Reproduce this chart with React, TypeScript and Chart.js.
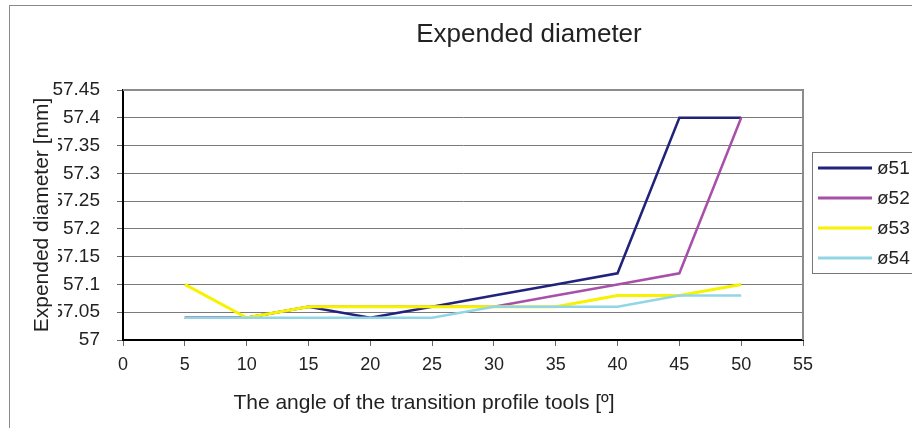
import React, { useEffect, useRef } from "react";
import { Chart, registerables } from "chart.js";

Chart.register(...registerables);

const angles = [5, 10, 15, 20, 25, 30, 35, 40, 45, 50];
const d51 = [57.04, 57.04, 57.06, 57.04, 57.06, 57.08, 57.1, 57.12, 57.4, 57.4];
const d52 = [57.04, 57.04, 57.06, 57.06, 57.06, 57.06, 57.08, 57.1, 57.12, 57.4];
const d53 = [57.1, 57.04, 57.06, 57.06, 57.06, 57.06, 57.06, 57.08, 57.08, 57.1];
const d54 = [57.04, 57.04, 57.04, 57.04, 57.04, 57.06, 57.06, 57.06, 57.08, 57.08];
const seriesNames = ["ø51", "ø52", "ø53", "ø54"];
const seriesColors = ["#22227c", "#a850a8", "#f6f200", "#92d6e6"];
const chartTitle = "Expended diameter";
const xTitle = "The angle of the transition profile tools [º]";
const yTitle = "Expended diameter [mm]";

const FONT = "'Liberation Sans', Arial, sans-serif";

const decorPlugin = {
  id: "decor",
  afterDraw(chart: any) {
    const { ctx, chartArea } = chart;
    ctx.save();
    // outer chart border
    ctx.strokeStyle = "#8a8a8a";
    ctx.lineWidth = 1;
    ctx.strokeRect(9.5, 5.5, 1200, 1200);
    // plot frame top/right
    ctx.strokeStyle = "#8c8c8c";
    ctx.lineWidth = 2;
    ctx.beginPath();
    ctx.moveTo(chartArea.left, chartArea.top);
    ctx.lineTo(chartArea.right, chartArea.top);
    ctx.lineTo(chartArea.right, chartArea.bottom);
    ctx.stroke();
    // title
    ctx.fillStyle = "#222";
    ctx.font = `26px ${FONT}`;
    ctx.textAlign = "center";
    ctx.textBaseline = "middle";
    ctx.fillText(chartTitle, 529, 35);
    // x title
    ctx.font = `21px ${FONT}`;
    ctx.fillText(xTitle, 424, 403);
    // y title with white background
    ctx.save();
    ctx.translate(41, (chartArea.top + chartArea.bottom) / 2);
    ctx.rotate(-Math.PI / 2);
    ctx.font = `21px ${FONT}`;
    const w = ctx.measureText(yTitle).width;
    ctx.fillStyle = "#fff";
    ctx.fillRect(-w / 2 - 2, -12, w + 4, 29);
    ctx.fillStyle = "#222";
    ctx.fillText(yTitle, 0, 1);
    ctx.restore();
    // legend
    const lx = 812, ly = 152;
    ctx.strokeStyle = "#777";
    ctx.lineWidth = 1;
    ctx.strokeRect(lx + 0.5, ly + 0.5, 200, 121);
    ctx.font = `19px ${FONT}`;
    ctx.textAlign = "left";
    chart.data.datasets.forEach((ds: any, i: number) => {
      const y = ly + 16 + i * 30;
      ctx.strokeStyle = ds.borderColor;
      ctx.lineWidth = 3;
      ctx.beginPath();
      ctx.moveTo(lx + 6, y);
      ctx.lineTo(lx + 60, y);
      ctx.stroke();
      ctx.fillStyle = "#222";
      ctx.fillText(ds.label, lx + 65, y + 1);
    });
    ctx.restore();
  },
};

export default function App() {
  const ref = useRef<HTMLCanvasElement>(null);
  useEffect(() => {
    document.body.style.margin = "0";
    const series = [d51, d52, d53, d54];
    const chart = new Chart(ref.current!, {
      type: "line",
      data: {
        datasets: series.map((s, i) => ({
          label: seriesNames[i],
          data: s.map((v, j) => ({ x: angles[j], y: v })),
          borderColor: seriesColors[i],
          backgroundColor: seriesColors[i],
          borderWidth: i === 2 ? 3 : 2.5,
          pointRadius: 0,
          tension: 0,
          fill: false,
          order: series.length - 1 - i,
        })),
      },
      options: {
        animation: false,
        responsive: false,
        layout: { padding: { top: 90, right: 109, left: 0, bottom: 0 } },
        plugins: {
          legend: { display: false },
          title: { display: false },
          tooltip: { enabled: false },
        },
        scales: {
          x: {
            type: "linear",
            min: 0,
            max: 55,
            afterFit: (s: any) => { s.height = 88; },
            ticks: {
              stepSize: 5,
              color: "#222",
              font: { size: 18, family: FONT },
              padding: 8,
              maxRotation: 0,
            },
            grid: { drawOnChartArea: false, color: "#000", tickColor: "#666", tickLength: 6 },
            border: { color: "#000", width: 2 },
          },
          y: {
            min: 57,
            max: 57.45,
            afterFit: (s: any) => { s.width = 123; },
            ticks: {
              stepSize: 0.05,
              color: "#222",
              font: { size: 19, family: FONT },
              padding: 17,
              callback: (v: any) => String(+Number(v).toFixed(2)),
            },
            grid: { color: "#7a7a7a", tickColor: "#666", tickLength: 6, lineWidth: 1 },
            border: { color: "#000", width: 2 },
          },
        },
      },
      plugins: [decorPlugin],
    });
    return () => chart.destroy();
  }, []);
  return (
    <div style={{ position: "absolute", left: 0, top: 0, width: 912, height: 428 }}>
      <canvas ref={ref} width={912} height={428} style={{ width: 912, height: 428 }} />
    </div>
  );
}
